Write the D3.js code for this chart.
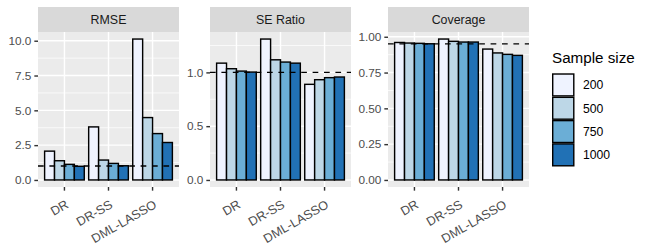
<!DOCTYPE html>
<html>
<head>
<meta charset="utf-8">
<script src="https://cdn.jsdelivr.net/npm/d3@7"></script>
<style>
  body { margin: 0; background: #fff; }
  text { font-family: "Liberation Sans", Arial, sans-serif; }
</style>
</head>
<body>
<svg id="chart" width="650" height="250"></svg>
<script>
// data
const methods = ["DR", "DR-SS", "DML-LASSO"];
const sampleSizes = ["200", "500", "750", "1000"];
const metrics = ["RMSE", "SE Ratio", "Coverage"];
const rmse = [[2.07, 1.38, 1.12, 0.98], [3.81, 1.43, 1.19, 1.02], [10.12, 4.48, 3.33, 2.69]];
const seRatio = [[1.086, 1.034, 1.012, 1.003], [1.31, 1.117, 1.096, 1.086], [0.889, 0.932, 0.951, 0.957]];
const coverage = [[0.960, 0.956, 0.954, 0.951], [0.984, 0.968, 0.963, 0.963], [0.914, 0.887, 0.877, 0.870]];
const targets = [1, 1, 0.95];
const yTicks = [[0, 2.5, 5, 7.5, 10], [0, 0.5, 1], [0, 0.25, 0.5, 0.75, 1]];
const yTickLabels = [["0.0", "2.5", "5.0", "7.5", "10.0"], ["0.0", "0.5", "1.0"], ["0.00", "0.25", "0.50", "0.75", "1.00"]];
const fills = ["#EFF3FF", "#BDD7E7", "#6BAED6", "#2171B5"];

const values = [rmse, seRatio, coverage];

let svg = d3.select("#chart");
let panelLeft = [38, 210, 388];
let panelW = 141;
let stripTop = 7, panelTop = 32, panelBottom = 187;
let lw = 1.42;

let color = d3.scaleOrdinal().domain(sampleSizes).range(fills);

metrics.forEach((metric, p) => {
    let g = svg.append("g").attr("transform", `translate(${panelLeft[p]},0)`);
    let data = values[p];
    let maxV = d3.max(data.flat());

    let x = d3.scaleBand()
        .domain(methods)
        .range([0, panelW])
        .paddingInner(0.1)
        .paddingOuter(0.15);
    let xSub = d3.scaleBand()
        .domain(sampleSizes)
        .range([0, x.bandwidth()]);
    let y = d3.scaleLinear()
        .domain([-0.05 * maxV, 1.05 * maxV])
        .range([panelBottom, panelTop]);

    // strip
    g.append("rect")
        .attr("x", 0).attr("y", stripTop)
        .attr("width", panelW).attr("height", panelTop - stripTop)
        .attr("fill", "#D9D9D9");
    g.append("text")
        .attr("x", panelW / 2).attr("y", (stripTop + panelTop) / 2)
        .attr("dy", "0.35em")
        .attr("text-anchor", "middle")
        .attr("font-size", 12.4)
        .attr("fill", "#1A1A1A")
        .text(metric);

    // panel background
    g.append("rect")
        .attr("x", 0).attr("y", panelTop)
        .attr("width", panelW).attr("height", panelBottom - panelTop)
        .attr("fill", "#EBEBEB");

    // minor grid
    let ticks = yTicks[p];
    let step = ticks[1] - ticks[0];
    let minor = [];
    for (let i = -1; i < ticks.length; i++) {
        let m = ticks[0] + (i + 0.5) * step;
        if (m >= y.domain()[0] && m <= y.domain()[1]) minor.push(m);
    }
    g.append("g").selectAll("line")
        .data(minor)
        .enter().append("line")
        .attr("x1", 0).attr("x2", panelW)
        .attr("y1", d => y(d)).attr("y2", d => y(d))
        .attr("stroke", "#fff").attr("stroke-width", lw / 2);

    // major grid
    g.append("g").selectAll("line")
        .data(ticks)
        .enter().append("line")
        .attr("x1", 0).attr("x2", panelW)
        .attr("y1", d => y(d)).attr("y2", d => y(d))
        .attr("stroke", "#fff").attr("stroke-width", lw);
    g.append("g").selectAll("line")
        .data(methods)
        .enter().append("line")
        .attr("x1", d => x(d) + x.bandwidth() / 2).attr("x2", d => x(d) + x.bandwidth() / 2)
        .attr("y1", panelTop).attr("y2", panelBottom)
        .attr("stroke", "#fff").attr("stroke-width", lw);

    // bars
    methods.forEach((m, i) => {
        g.append("g")
            .attr("transform", `translate(${x(m)},0)`)
            .selectAll("rect")
            .data(data[i])
            .enter().append("rect")
            .attr("x", (d, j) => xSub(sampleSizes[j]))
            .attr("width", xSub.bandwidth())
            .attr("y", d => y(d))
            .attr("height", d => y(0) - y(d))
            .attr("fill", (d, j) => color(sampleSizes[j]))
            .attr("stroke", "#000")
            .attr("stroke-width", lw);
    });

    // reference line
    g.append("line")
        .attr("x1", 0).attr("x2", panelW)
        .attr("y1", y(targets[p])).attr("y2", y(targets[p]))
        .attr("stroke", "#000")
        .attr("stroke-width", lw)
        .attr("stroke-dasharray", "5.7,5.7");

    // y axis
    let yAxis = d3.axisLeft(y)
        .tickValues(ticks)
        .tickFormat((d, i) => yTickLabels[p][i])
        .tickSize(3.67)
        .tickPadding(2.9);
    let ya = g.append("g").call(yAxis);
    ya.select(".domain").remove();
    ya.selectAll(".tick line").attr("stroke", "#333333").attr("stroke-width", lw);
    ya.selectAll(".tick text")
        .attr("fill", "#4D4D4D")
        .attr("font-size", 11.8)
        .attr("font-family", "Liberation Sans, Arial, sans-serif");

    // x axis
    let xAxis = d3.axisBottom(x).tickSize(3.67).tickFormat("");
    let xa = g.append("g").attr("transform", `translate(0,${panelBottom})`).call(xAxis);
    xa.select(".domain").remove();
    xa.selectAll(".tick line").attr("stroke", "#333333").attr("stroke-width", lw);
    g.append("g").selectAll("text")
        .data(methods)
        .enter().append("text")
        .attr("transform", d => `translate(${x(d) + x.bandwidth() / 2 + 5},207) rotate(-30)`)
        .attr("text-anchor", "end")
        .attr("font-size", 12.6)
        .attr("fill", "#4D4D4D")
        .text(d => d);
});

// legend
let legend = svg.append("g").attr("transform", "translate(552,0)");
legend.append("text")
    .attr("x", 0).attr("y", 62.5)
    .attr("font-size", 15.2)
    .attr("fill", "#000")
    .text("Sample size");
let keyH = 23.3;
let key = legend.selectAll("g.key")
    .data(sampleSizes)
    .enter().append("g")
    .attr("class", "key")
    .attr("transform", (d, i) => `translate(0,${73.3 + i * keyH})`);
key.append("rect")
    .attr("x", lw / 2).attr("y", lw / 2)
    .attr("width", 22.5 - lw).attr("height", keyH - lw)
    .attr("fill", d => color(d))
    .attr("stroke", "#000")
    .attr("stroke-width", lw);
key.append("text")
    .attr("x", 31).attr("y", keyH / 2)
    .attr("dy", "0.35em")
    .attr("font-size", 12.2)
    .attr("fill", "#000")
    .text(d => d);
</script>
</body>
</html>
